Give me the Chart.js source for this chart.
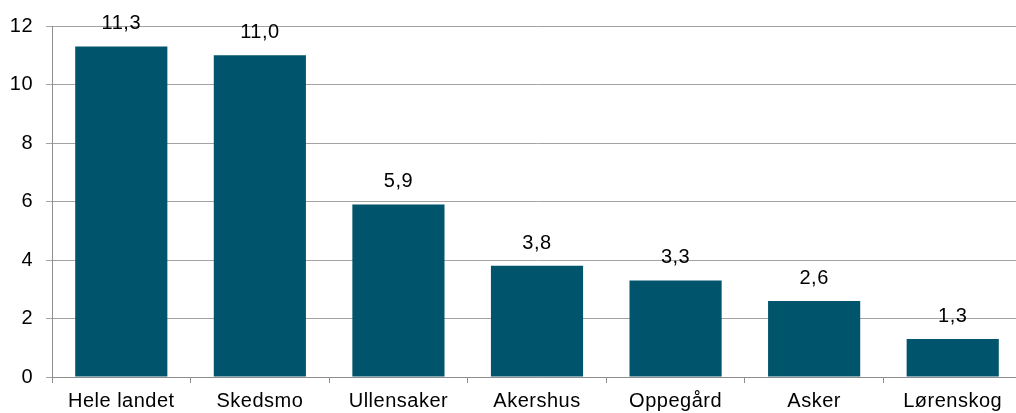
<!DOCTYPE html>
<html>
<head>
<meta charset="utf-8">
<script src="https://cdn.jsdelivr.net/npm/chart.js@4/dist/chart.umd.min.js"></script>
<style>
  html, body { margin: 0; padding: 0; background: #fff; overflow: hidden; }
  #wrap { width: 1024px; height: 413px; }
</style>
</head>
<body>
<div id="wrap"><canvas id="chart" width="1024" height="413"></canvas></div>
<script>
// Kommuner - bar chart with value labels (comma decimals)
const categories = ['Hele landet', 'Skedsmo', 'Ullensaker', 'Akershus', 'Oppegård', 'Asker', 'Lørenskog'];
const values = [11.3, 11.0, 5.9, 3.8, 3.3, 2.6, 1.3];
const yTicks = [0, 2, 4, 6, 8, 10, 12];

const FONT = "'Liberation Sans', Arial, sans-serif";
const gridColor = '#a3a3a3';
const axisColor = '#8e8e8e';

// widen text a little, the reference font runs wide
const letterSpacingPlugin = {
  id: 'spacing',
  beforeDraw(chart) { chart.ctx.letterSpacing = '0.5px'; }
};

const valueLabels = {
  id: 'valueLabels',
  afterDatasetsDraw(chart) {
    const ctx = chart.ctx;
    const meta = chart.getDatasetMeta(0);
    ctx.save();
    ctx.font = '20px ' + FONT;
    ctx.fillStyle = '#000';
    ctx.textAlign = 'center';
    ctx.textBaseline = 'alphabetic';
    meta.data.forEach((bar, i) => {
      const txt = values[i].toFixed(1).replace('.', ',');
      ctx.fillText(txt, bar.x, bar.y - 17);
    });
    ctx.restore();
  }
};

new Chart(document.getElementById('chart'), {
  type: 'bar',
  data: {
    labels: categories,
    datasets: [{
      data: values,
      backgroundColor: '#00546b',
      borderWidth: 0,
      categoryPercentage: 1,
      barPercentage: 0.665
    }]
  },
  options: {
    responsive: false,
    animation: false,
    layout: { padding: { top: 26, right: 2, bottom: 0, left: 0 } },
    plugins: { legend: { display: false }, tooltip: { enabled: false } },
    scales: {
      x: {
        grid: { display: true, drawOnChartArea: false, drawTicks: true, tickLength: 6, color: axisColor, offset: true },
        border: { display: true, color: axisColor, width: 1 },
        ticks: { color: '#000', font: { family: FONT, size: 20 }, padding: 6, maxRotation: 0, autoSkip: false },
        afterFit(scale) { scale.height = 36; }
      },
      y: {
        min: 0,
        max: 12,
        afterBuildTicks(scale) { scale.ticks = yTicks.map(v => ({ value: v })); },
        grid: { color: gridColor, tickLength: 6, tickColor: gridColor },
        border: { display: true, color: axisColor, width: 1 },
        ticks: { color: '#000', font: { family: FONT, size: 20 }, padding: 13 },
        afterFit(scale) { scale.width = 52; }
      }
    }
  },
  plugins: [letterSpacingPlugin, valueLabels]
});
</script>
</body>
</html>
